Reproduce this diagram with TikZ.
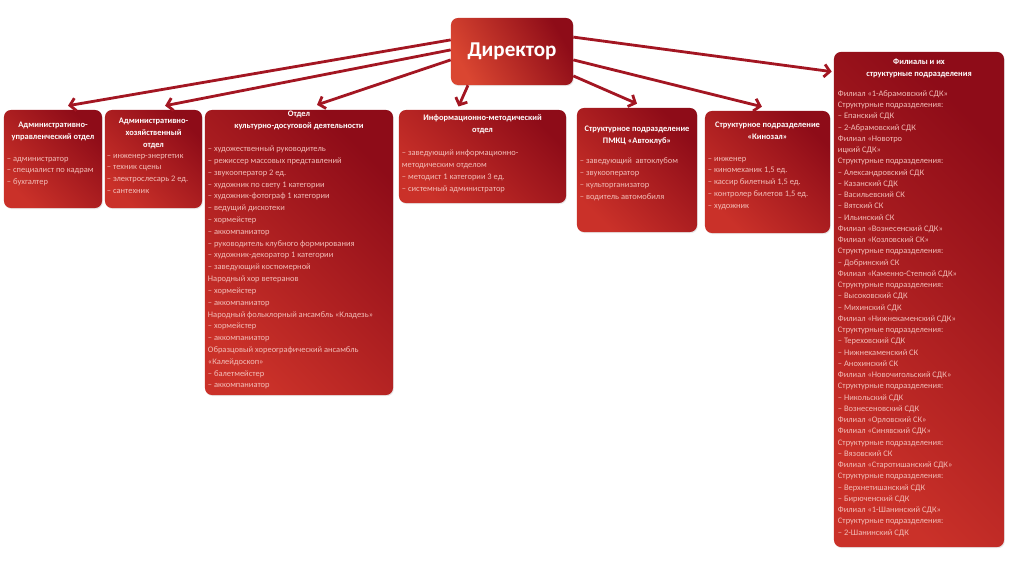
\documentclass[tikz,border=0pt]{standalone}
\usepackage{fontspec}
\setmainfont{Carlito}
\usetikzlibrary{arrows.meta,shadows}
\definecolor{boxlight}{HTML}{CA3129}
\definecolor{boxdark}{HTML}{8E0C18}
\definecolor{dirlight}{HTML}{DA4631}
\definecolor{arrred}{HTML}{A31622}
\definecolor{itemtxt}{HTML}{F2BDB7}
\tikzset{
  box/.style={rounded corners=5pt, top color=boxdark, bottom color=boxlight, shading angle=-45,
    inner sep=0pt, drop shadow={opacity=0.18, shadow xshift=0.6pt, shadow yshift=-0.8pt}},
  head/.style={text=white, font=\bfseries\fontsize{6}{8.5}\selectfont, align=center, inner sep=0pt, anchor=north},
  items/.style={text=itemtxt, font=\fontsize{6}{8.4}\selectfont, align=left, inner sep=0pt, anchor=north west},
  arr/.style={draw=arrred, line width=2pt, -{Straight Barb[length=4pt,width=9pt]}}
}
\begin{document}
\begin{tikzpicture}[x=0.025cm,y=-0.025cm]
  \useasboundingbox (0,0) rectangle (1024,576);
  % boxes
  \node[box, bottom color=dirlight, shading angle=-60, minimum width=3.05cm, minimum height=1.675cm,
    font=\bfseries\fontsize{15}{18}\selectfont, text=white] (dir) at (512,51.5) {Директор};
  \node[box, minimum width=2.45cm, minimum height=2.45cm] (adm) at (53,159) {};
  \node[box, minimum width=2.425cm, minimum height=2.45cm] (hoz) at (153.5,159) {};
  \node[box, minimum width=4.7cm, minimum height=7.125cm] (kdd) at (299,252.5) {};
  \node[box, minimum width=4.175cm, minimum height=2.325cm] (imo) at (482.5,156.5) {};
  \node[box, minimum width=3.0cm, minimum height=3.1cm] (avto) at (637,170) {};
  \node[box, minimum width=3.125cm, minimum height=3.05cm] (kino) at (767.5,172) {};
  \node[box, minimum width=4.25cm, minimum height=12.375cm] (fil) at (919,299.5) {};
  % headings
  \node[head] (admT) at ([yshift=-0.3cm]adm.north) {Административно-\\управленческий отдел};
  \node[head] (hozT) at ([yshift=-0.2cm]hoz.north) {Административно-\\хозяйственный\\отдел};
  \node[head] (kddT) at ([yshift=-0.03cm]kdd.north) {Отдел\\культурно-досуговой деятельности};
  \node[head] (imoT) at ([yshift=-0.13cm]imo.north) {Информационно-методический\\отдел};
  \node[head] (avtoT) at ([yshift=-0.45cm]avto.north) {Структурное подразделение\\ПМКЦ «Автоклуб»};
  \node[head] (kinoT) at ([yshift=-0.28cm]kino.north) {Структурное подразделение\\«Кинозал»};
  \node[head] (filT) at ([yshift=-0.17cm]fil.north) {Филиалы и их\\структурные подразделения};
  % lists
  \node[items] (admL) at ([xshift=0.075cm,yshift=-1.175cm]adm.north west)
    {– администратор\\– специалист по кадрам\\– бухгалтер};
  \node[items] (hozL) at ([xshift=0.05cm,yshift=-1.1cm]hoz.north west)
    {– инженер-энергетик\\– техник сцены\\– электрослесарь 2 ед.\\– сантехник};
  \node[items] (kddL) at ([xshift=0.075cm,yshift=-0.9cm]kdd.north west)
    {– художественный руководитель\\– режиссер массовых представлений\\– звукооператор 2 ед.\\
     – художник по свету 1 категории\\– художник-фотограф 1 категории\\– ведущий дискотеки\\
     – хормейстер\\– аккомпаниатор\\– руководитель клубного формирования\\
     – художник-декоратор 1 категории\\– заведующий костюмерной\\Народный хор ветеранов\\
     – хормейстер\\– аккомпаниатор\\Народный фольклорный ансамбль «Кладезь»\\– хормейстер\\
     – аккомпаниатор\\Образцовый хореографический ансамбль\\«Калейдоскоп»\\– балетмейстер\\
     – аккомпаниатор};
  \node[items] (imoL) at ([xshift=0.075cm,yshift=-1.0cm]imo.north west)
    {– заведующий информационно-\\методическим отделом\\– методист 1 категории 3 ед.\\– системный администратор};
  \node[items] (avtoL) at ([xshift=0.075cm,yshift=-1.25cm]avto.north west)
    {– заведующий~ автоклубом\\– звукооператор\\– культорганизатор\\– водитель автомобиля};
  \node[items] (kinoL) at ([xshift=0.075cm,yshift=-1.15cm]kino.north west)
    {– инженер\\– киномеханик 1,5 ед.\\– кассир билетный 1,5 ед.\\– контролер билетов 1,5 ед.\\– художник};
  \node[items, font=\fontsize{6}{8.0}\selectfont] (filL) at ([xshift=0.1cm,yshift=-0.97cm]fil.north west)
    {Филиал «1-Абрамовский СДК»\\Структурные подразделения:\\– Епанский СДК\\– 2-Абрамовский СДК\\
     Филиал «Новотро\\ицкий СДК»\\Структурные подразделения:\\– Александровский СДК\\– Казанский СДК\\
     – Васильевский СК\\– Вятский СК\\– Ильинский СК\\Филиал «Вознесенский СДК»\\
     Филиал «Козловский СК»\\Структурные подразделения:\\– Добринский СК\\
     Филиал «Каменно-Степной СДК»\\Структурные подразделения:\\– Высоковский СДК\\– Михинский СДК\\
     Филиал «Нижнекаменский СДК»\\Структурные подразделения:\\– Тереховский СДК\\
     – Нижнекаменский СК\\– Анохинский СК\\Филиал «Новочигольский СДК»\\
     Структурные подразделения:\\– Никольский СДК\\– Вознесеновский СДК\\Филиал «Орловский СК»\\
     Филиал «Синявский СДК»\\Структурные подразделения:\\– Вязовский СК\\
     Филиал «Старотишанский СДК»\\Структурные подразделения:\\– Верхнетишанский СДК\\
     – Бирюченский СДК\\Филиал «1-Шанинский СДК»\\Структурные подразделения:\\– 2-Шанинский СДК};
  % arrows
  \draw[arr] ([yshift=0.29cm]dir.west) -- ([xshift=0.375cm,yshift=0.1cm]adm.north);
  \draw[arr] ([yshift=0.04cm]dir.west) -- ([xshift=0.29cm,yshift=0.1cm]hoz.north);
  \draw[arr] ([yshift=-0.21cm]dir.west) -- ([xshift=0.45cm,yshift=0.12cm]kdd.north);
  \draw[arr] ([xshift=-1.1cm]dir.south) -- ([xshift=-0.6cm,yshift=0.08cm]imo.north);
  \draw[arr] ([yshift=-0.61cm]dir.east) -- ([yshift=0.1cm]avto.north);
  \draw[arr] ([yshift=-0.21cm]dir.east) -- ([xshift=-0.14cm,yshift=0.1cm]kino.north);
  \draw[arr] ([yshift=0.36cm]dir.east) -- ([xshift=-0.05cm,yshift=-0.5cm]fil.north west);
\end{tikzpicture}
\end{document}
